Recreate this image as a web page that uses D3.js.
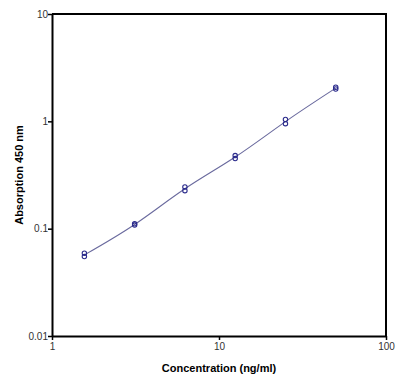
<!DOCTYPE html>
<html>
<head>
<meta charset="utf-8">
<script src="https://cdn.jsdelivr.net/npm/d3@7"></script>
<style>
  body { margin: 0; background: #fff; }
  text { font-family: "Liberation Sans", Arial, sans-serif; }
</style>
</head>
<body>
<svg id="chart"></svg>
<script>
const width = 400;
const height = 378;
const margin = { top: 14, right: 14, bottom: 42, left: 52 };

// concentrations (ng/ml) and duplicate readings
const conc = [1.5625, 3.125, 6.25, 12.5, 25, 50];
const rep1 = [0.059, 0.111, 0.245, 0.48, 1.04, 2.08];
const rep2 = [0.055, 0.108, 0.226, 0.45, 0.95, 2.0];
const xTicks = [1, 10, 100];
const yTicks = [0.01, 0.1, 1, 10];

const svg = d3.select('#chart')
    .attr('width', width)
    .attr('height', height);

const x = d3.scaleLog()
    .domain([1, 100])
    .range([margin.left, width - margin.right]);

const y = d3.scaleLog()
    .domain([0.01, 10])
    .range([height - margin.bottom, margin.top]);

const xAxis = d3.axisBottom(x).tickValues(xTicks).tickFormat(d3.format('~g')).tickSize(4).tickSizeOuter(0);
const yAxis = d3.axisLeft(y).tickValues(yTicks).tickFormat(d3.format('~g')).tickSize(4).tickSizeOuter(0);

// frame top and right
svg.append('path')
    .attr('d', `M${x(1)},${y(10)}H${x(100)}V${y(0.01)}`)
    .attr('fill', 'none')
    .attr('stroke', '#000')
    .attr('stroke-width', 2);

const gx = svg.append('g')
    .attr('transform', `translate(0,${height - margin.bottom})`)
    .call(xAxis);
gx.select('.domain').attr('stroke-width', 2);
gx.selectAll('.tick line').attr('stroke-width', 1.5);
gx.selectAll('text').attr('font-size', 10).attr('fill', '#333');

const gy = svg.append('g')
    .attr('transform', `translate(${margin.left},0)`)
    .call(yAxis);
gy.select('.domain').attr('stroke-width', 2);
gy.selectAll('.tick line').attr('stroke-width', 1.5);
gy.selectAll('text').attr('font-size', 10).attr('fill', '#333').attr('x', -4);

// fitted curve through mean values
const means = conc.map((c, i) => ({ c, v: Math.sqrt(rep1[i] * rep2[i]) }));
const line = d3.line()
    .x(d => x(d.c))
    .y(d => y(d.v))
    .curve(d3.curveNatural);

svg.append('path')
    .datum(means)
    .attr('d', line)
    .attr('fill', 'none')
    .attr('stroke', '#6a6a9e')
    .attr('stroke-width', 1.1);

const pts = conc.flatMap((c, i) => [{ c, v: rep1[i] }, { c, v: rep2[i] }]);

svg.selectAll('circle.pt')
    .data(pts)
    .enter()
    .append('circle')
    .attr('class', 'pt')
    .attr('cx', d => x(d.c))
    .attr('cy', d => y(d.v))
    .attr('r', 2.2)
    .attr('fill', 'none')
    .attr('stroke', '#2b2b8c')
    .attr('stroke-width', 1.1);

svg.append('text')
    .attr('x', (margin.left + width - margin.right) / 2)
    .attr('y', 372)
    .attr('text-anchor', 'middle')
    .attr('font-size', 11)
    .attr('font-weight', 'bold')
    .text('Concentration (ng/ml)');

svg.append('text')
    .attr('transform', `translate(23,${(margin.top + height - margin.bottom) / 2}) rotate(-90)`)
    .attr('text-anchor', 'middle')
    .attr('font-size', 11)
    .attr('font-weight', 'bold')
    .text('Absorption 450 nm');
</script>
</body>
</html>
